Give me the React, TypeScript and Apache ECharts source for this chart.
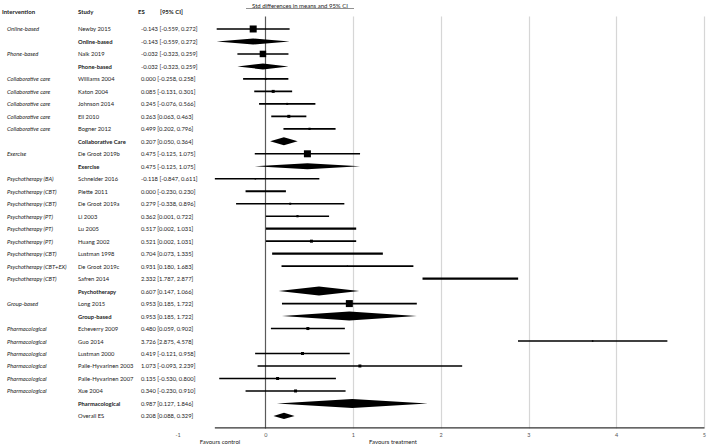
import React, { useEffect, useRef } from "react";
import * as echarts from "echarts";

const interventions = [
  "Online-based", "", "Phone-based", "",
  "Collaborative care", "Collaborative care", "Collaborative care", "Collaborative care", "Collaborative care", "",
  "Exercise", "",
  "Psychotherapy (BA)", "Psychotherapy (CBT)", "Psychotherapy (CBT)", "Psychotherapy (PT)", "Psychotherapy (PT)",
  "Psychotherapy (PT)", "Psychotherapy (CBT)", "Psychotherapy (CBT+EX)", "Psychotherapy (CBT)", "",
  "Group-based", "",
  "Pharmacological", "Pharmacological", "Pharmacological", "Pharmacological", "Pharmacological", "Pharmacological", "",
  "",
];
const studies = [
  "Newby 2015", "Online-based", "Naik 2019", "Phone-based",
  "Williams 2004", "Katon 2004", "Johnson 2014", "Ell 2010", "Bogner 2012", "Collaborative Care",
  "De Groot 2019b", "Exercise",
  "Schneider 2016", "Piette 2011", "De Groot 2019a", "Li 2003", "Lu 2005", "Huang 2002", "Lustman 1998",
  "De Groot 2019c", "Safren 2014", "Psychotherapy",
  "Long 2015", "Group-based",
  "Echeverry 2009", "Guo 2014", "Lustman 2000", "Paile-Hyvarinen 2003", "Paile-Hyvarinen 2007", "Xue 2004",
  "Pharmacological", "Overall ES",
];
const esValues = [
  -0.143, -0.143, -0.032, -0.032,
  0.0, 0.085, 0.245, 0.263, 0.499, 0.207,
  0.475, 0.475,
  -0.118, 0.0, 0.279, 0.362, 0.517, 0.521, 0.704, 0.931, 2.332, 0.607,
  0.953, 0.953,
  0.48, 3.726, 0.419, 1.073, 0.135, 0.34, 0.987, 0.208,
];
const lowerCI = [
  -0.559, -0.559, -0.323, -0.323,
  -0.258, -0.131, -0.076, 0.063, 0.202, 0.05,
  -0.125, -0.125,
  -0.847, -0.23, -0.338, 0.001, 0.002, 0.002, 0.073, 0.18, 1.787, 0.147,
  0.185, 0.185,
  0.059, 2.875, -0.121, -0.093, -0.53, -0.23, 0.127, 0.088,
];
const upperCI = [
  0.272, 0.272, 0.259, 0.259,
  0.258, 0.301, 0.566, 0.463, 0.796, 0.364,
  1.075, 1.075,
  0.611, 0.23, 0.896, 0.722, 1.031, 1.031, 1.335, 1.683, 2.877, 1.066,
  1.722, 1.722,
  0.902, 4.578, 0.958, 2.239, 0.8, 0.91, 1.846, 0.329,
];
// 1 = pooled (diamond), 0 = single study
const pooled = [
  0, 1, 0, 1,
  0, 0, 0, 0, 0, 1,
  0, 1,
  0, 0, 0, 0, 0, 0, 0, 0, 0, 1,
  0, 1,
  0, 0, 0, 0, 0, 0, 1, 0,
];
const isOverall = [
  0, 0, 0, 0, 0, 0, 0, 0, 0, 0, 0, 0, 0, 0, 0, 0, 0, 0, 0, 0, 0, 0, 0, 0, 0, 0, 0, 0, 0, 0, 0, 1,
];
// relative study weights (drive marker / diamond size)
const weights = [
  7, 3, 6.5, 3,
  2, 3, 2, 3, 2.2, 4,
  7, 3,
  1.5, 0, 2, 2.2, 0, 3, 0, 1.2, 0, 4.5,
  7, 4.5,
  3, 1.5, 3, 3, 3, 3, 4.5, 3.2,
];
const xTicks = [-1, 0, 1, 2, 3, 4, 5];
const plotFrom = -0.58; // left end of the drawn plot area (axis line start)

const FONT = "Lato, 'Open Sans', sans-serif";
const fmt = (v: number) => v.toFixed(3);

export default function App() {
  const ref = useRef<HTMLDivElement>(null);
  useEffect(() => {
    if (!ref.current) return;
    const chart = echarts.init(ref.current, undefined, { renderer: "svg" });
    const rows = studies.map((_, i) => i);
    const forestData = rows.map((i) => [esValues[i], i, lowerCI[i], upperCI[i], pooled[i] || isOverall[i], weights[i]]);
    const tableData = rows.map((i) => [0, i]);

    const option: any = {
      animation: false,
      grid: { left: 178, right: 2, top: 16.5, bottom: 16.6 },
      xAxis: {
        type: "value",
        min: xTicks[0],
        max: xTicks[xTicks.length - 1],
        interval: 1,
        axisLine: { show: false },
        axisTick: { show: false },
        axisLabel: { color: "#555", fontSize: 5.5, fontFamily: FONT, margin: 3.5 },
        splitLine: {
          show: true,
          lineStyle: {
            width: 1.2,
            color: ["rgba(0,0,0,0)", "#5a5a5a", "#d6d6d6", "#d6d6d6", "#d6d6d6", "#d6d6d6", "#d6d6d6"],
          },
        },
      },
      yAxis: { type: "value", min: -1, max: 32, inverse: true, show: false },
      series: [
        {
          type: "line",
          data: [[plotFrom, 31.95], [xTicks[xTicks.length - 1], 31.95]],
          symbol: "none",
          lineStyle: { color: "#333", width: 1.2 },
          silent: true,
        },
        {
          type: "custom",
          data: forestData,
          clip: false,
          renderItem: (params: any, api: any) => {
            const es = api.value(0);
            const row = api.value(1);
            const lo = Math.max(api.value(2), plotFrom);
            const hi = api.value(3);
            const isPool = api.value(4);
            const w = api.value(5);
            const pc = api.coord([es, row]);
            const pl = api.coord([lo, row]);
            const ph = api.coord([hi, row]);
            if (isPool) {
              const h = w;
              return {
                type: "polygon",
                shape: {
                  points: [
                    [pl[0], pc[1]],
                    [pc[0], pc[1] - h],
                    [ph[0], pc[1]],
                    [pc[0], pc[1] + h],
                  ],
                },
                style: { fill: "#000" },
              };
            }
            const children: any[] = [
              {
                type: "line",
                shape: { x1: pl[0], y1: pc[1], x2: ph[0], y2: pc[1] },
                style: { stroke: "#000", lineWidth: w > 0 ? 1.6 : 2.2 },
              },
            ];
            if (w > 0) {
              children.push({
                type: "rect",
                shape: { x: pc[0] - w / 2, y: pc[1] - w / 2, width: w, height: w },
                style: { fill: "#000" },
              });
            }
            return { type: "group", children };
          },
        },
        {
          type: "custom",
          data: tableData,
          clip: false,
          renderItem: (params: any, api: any) => {
            const i = api.value(1);
            const y = api.coord([0, i])[1];
            const bold = pooled[i] === 1;
            const base = { fontFamily: FONT, fontSize: 5.8, fill: "#222", verticalAlign: "middle", align: "left" };
            return {
              type: "group",
              children: [
                {
                  type: "text",
                  x: 7,
                  y,
                  style: { ...base, text: interventions[i], fontStyle: "italic" },
                },
                {
                  type: "text",
                  x: 78,
                  y,
                  style: { ...base, text: studies[i], fontWeight: bold ? "bold" : "normal" },
                },
                {
                  type: "text",
                  x: 141,
                  y,
                  style: { ...base, text: `${fmt(esValues[i])} [${fmt(lowerCI[i])}, ${fmt(upperCI[i])}]` },
                },
              ],
            };
          },
        },
      ],
      graphic: [
        { type: "text", left: 2, top: 8, style: { text: "Intervention", font: `bold 6px ${FONT}`, fill: "#222" } },
        { type: "text", left: 78, top: 8, style: { text: "Study", font: `bold 6px ${FONT}`, fill: "#222" } },
        { type: "text", left: 138, top: 8, style: { text: "ES", font: `bold 6px ${FONT}`, fill: "#222" } },
        { type: "text", left: 160, top: 8, style: { text: "[95% CI]", font: `bold 6px ${FONT}`, fill: "#222" } },
        {
          type: "text",
          x: 300,
          y: 5,
          style: {
            text: "Std differences in means and 95% CI",
            font: `6px ${FONT}`,
            fill: "#222",
            align: "center",
            verticalAlign: "middle",
          },
        },
        { type: "line", shape: { x1: 246, y1: 8.5, x2: 354, y2: 8.5 }, style: { stroke: "#222", lineWidth: 0.5 } },
        {
          type: "text",
          x: 220,
          y: 441,
          style: { text: "Favours control", font: `6px ${FONT}`, fill: "#222", align: "center", verticalAlign: "middle" },
        },
        {
          type: "text",
          x: 393,
          y: 441,
          style: { text: "Favours treatment", font: `6px ${FONT}`, fill: "#222", align: "center", verticalAlign: "middle" },
        },
      ],
    };
    chart.setOption(option);
    return () => chart.dispose();
  }, []);
  return <div ref={ref} style={{ width: 709, height: 445, position: "absolute", left: 0, top: 0 }} />;
}
